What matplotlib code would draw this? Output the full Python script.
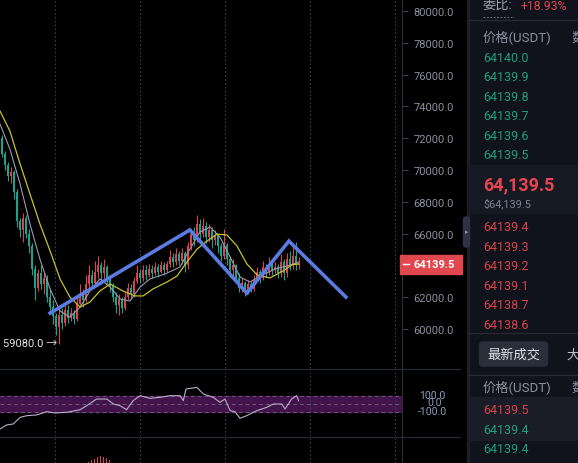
import matplotlib
matplotlib.use("Agg")
from matplotlib import pyplot as plt
from matplotlib.patches import Rectangle, FancyBboxPatch
import numpy as np

plt.rcParams['font.family'] = ['Roboto', 'Noto Sans CJK SC', 'DejaVu Sans']

# ---- candle data (prices in thousand USDT), open = previous close ----
first_open = 72.0
closes = [71.0, 70.3, 69.6, 69.9, 68.6, 66.8, 66.2, 67.0, 66.0, 65.2,
          63.8, 62.6, 63.5, 62.8, 63.2, 62.0, 61.4, 60.8, 60.1, 60.9,
          60.4, 61.2, 60.7, 61.0, 60.6, 61.6, 62.2, 61.8, 62.8, 63.4,
          62.9, 63.6, 64.0, 63.5, 63.9, 63.2, 62.7, 62.0, 61.5, 61.9,
          61.3, 62.0, 62.6, 62.2, 63.0, 63.5, 63.2, 63.7, 63.4, 63.8,
          63.5, 63.9, 63.6, 64.0, 63.7, 64.1, 64.5, 64.2, 64.7, 64.3,
          64.8, 64.0, 65.2, 66.0, 65.6, 66.6, 66.0, 66.5, 65.8, 66.2,
          65.6, 65.9, 65.2, 64.6, 65.3, 64.4, 63.7, 64.0, 63.2, 62.6,
          62.9, 62.4, 62.8, 62.5, 63.1, 63.6, 63.2, 63.9, 63.6, 64.0,
          63.7, 63.9, 63.5, 64.2, 63.5, 64.4, 64.0, 64.6, 64.0, 64.1395]
highs = [72.2, 71.2, 70.5, 70.2, 70.0, 68.8, 67.0, 67.3, 67.2, 66.3,
         65.4, 64.0, 63.8, 64.0, 63.6, 63.4, 62.5, 61.8, 61.0, 61.2,
         61.3, 61.6, 61.5, 61.3, 61.2, 62.0, 62.8, 62.5, 63.4, 64.0,
         63.7, 64.3, 64.6, 64.2, 64.4, 64.0, 63.4, 62.9, 62.3, 62.2,
         62.0, 62.3, 62.9, 62.8, 63.3, 64.0, 63.8, 64.0, 64.0, 64.1,
         64.0, 64.2, 64.1, 64.3, 64.2, 64.3, 65.0, 64.8, 65.1, 64.9,
         65.1, 64.9, 65.5, 66.3, 66.4, 67.2, 66.9, 67.0, 66.7, 66.6,
         66.4, 66.2, 66.0, 65.4, 66.3, 65.4, 64.6, 64.4, 64.1, 63.5,
         63.2, 63.0, 63.1, 63.0, 63.4, 63.9, 63.8, 64.3, 64.1, 64.5,
         64.2, 64.2, 64.1, 64.7, 64.4, 64.8, 64.9, 65.3, 65.5, 64.5]
lows = [70.8, 70.0, 69.3, 69.2, 68.2, 66.4, 65.8, 65.5, 65.7, 64.8,
        63.4, 61.8, 62.4, 62.5, 62.2, 61.7, 61.0, 60.3, 59.6, 59.08,
        60.0, 60.2, 60.4, 60.5, 60.3, 60.5, 61.5, 61.4, 61.7, 62.6,
        62.6, 62.8, 63.2, 63.1, 63.2, 62.8, 62.3, 61.7, 61.0, 60.9,
        61.0, 61.2, 61.8, 61.9, 62.0, 62.9, 62.9, 63.0, 63.1, 63.3,
        63.2, 63.4, 63.3, 63.5, 63.4, 63.6, 63.9, 63.9, 64.0, 64.0,
        64.1, 63.6, 63.8, 65.0, 65.2, 65.5, 65.6, 65.8, 65.4, 65.5,
        65.1, 65.3, 64.8, 64.3, 64.4, 64.0, 63.3, 63.2, 62.9, 62.3,
        62.3, 62.1, 62.2, 62.3, 62.4, 63.0, 62.9, 63.1, 63.3, 63.4,
        63.4, 63.5, 63.2, 63.3, 63.1, 63.3, 63.7, 63.8, 63.7, 63.8]

# moving average lines (candle index, price)
ma_slow_idx = [-0.5, 2.8, 6.2, 9.5, 12.8, 16.2, 19.5, 22.8, 26.2, 29.5, 32.8, 36.2, 40.5, 44.5,
               47.2, 50.5, 55.2, 58.5, 61.8, 65.2, 68.5, 71.8, 75.2, 78.5, 81.8, 85.2, 89.5,
               93.8, 97.0, 99.0]
ma_slow_val = [73.71, 72.45, 70.38, 68.49, 66.61, 64.91, 63.15, 62.01, 61.38, 61.70, 62.39,
               62.83, 62.39, 62.08, 62.08, 62.52, 62.96, 63.33, 64.21, 65.03, 65.53, 65.97,
               65.91, 65.22, 64.09, 63.40, 63.21, 63.65, 64.05, 64.09]
ma_fast_idx = [-0.5, 2.8, 6.2, 9.5, 12.8, 16.2, 19.5, 22.8, 26.2, 29.5, 32.8, 36.2, 39.5, 42.8,
               46.2, 49.5, 54.5, 59.5, 62.8, 66.2, 69.5, 72.8, 76.2, 79.5, 82.8, 86.2, 91.2,
               96.2, 99.0]
ma_fast_val = [72.89, 71.32, 69.12, 66.60, 64.40, 62.52, 61.13, 60.75, 61.38, 62.39, 63.15,
               62.64, 61.89, 61.76, 62.64, 63.15, 63.46, 63.90, 65.03, 66.10, 66.42, 65.79,
               64.53, 63.27, 62.96, 63.33, 63.77, 64.02, 64.21]

# hand drawn zigzag
zig_idx = [16.2, 62.8, 81.8, 95.8, 114.8]
zig_val = [61.0, 66.23, 62.26, 65.53, 62.01]

# CCI pane
cci_idx = [-0.5, 1.7, 3.9, 6.2, 8.4, 11.7, 15.1, 17.8, 21.7, 26.2, 28.4, 31.7, 35.1, 37.3,
           39.5, 41.7, 43.9, 46.2, 49.5, 52.8, 56.2, 59.5, 60.6, 61.5, 65.1, 67.3, 70.6,
           72.8, 74.5, 76.2, 77.8, 79.5, 81.7, 85.1, 88.4, 90.6, 93.4, 94.5, 96.7, 98.4, 99.0]
cci_val = [-312, -262, -250, -167, -146, -137, -96, -112, -104, -71, -21, 62, 62, 0, -21, -71,
           42, 104, 71, 83, 104, 104, 42, 187, 208, 125, 83, 21, 62, -83, -96, -179, -146,
           -83, -42, 0, 0, -62, 62, 104, 42]

# MACD histogram (only the visible tops)
macd_idx = [29, 30, 31, 32, 33, 34, 35, 36]
macd_val = [1.5, 3.0, 4.5, 6.0, 7.0, 6.5, 5.0, 3.0]

# 64000 sits under the last price tag
price_ticks = [60, 62, 66, 68, 70, 72, 74, 76, 78, 80]
time_grid = [17.8, 46.2, 74.5, 102.8, 131.2]

asks = ['64140.0', '64139.9', '64139.8', '64139.7', '64139.6', '64139.5']
bids = ['64139.4', '64139.3', '64139.2', '64139.1', '64138.7', '64138.6']
trades = ['64139.5', '64139.4', '64139.4']
trade_up = [True, False, False]

UP = '#d9434b'
DOWN = '#1aa38d'
GRAY = '#8b8fa0'
W, H = 578, 464

fig = plt.figure(figsize=(W / 100, H / 100), dpi=100, facecolor='black')

def px_axes(zorder):
    a = fig.add_axes([0, 0, 1, 1], zorder=zorder)
    a.set_xlim(0, W)
    a.set_ylim(H, 0)
    a.axis('off')
    a.patch.set_alpha(0)
    return a

bg = px_axes(0)
bg.add_patch(Rectangle((468, 0), W - 468, H, color='#10131b'))
bg.add_patch(Rectangle((467, 0), 1.5, H, color='#1c1f28'))
bg.add_patch(Rectangle((468, 166), W - 468, 48, color='#151923'))
bg.add_patch(Rectangle((468, 398), W - 468, 43, color='#1a1d27'))

# ---- main candle pane ----
def pane(bottom_px, top_px, zorder=1):
    a = fig.add_axes([0, (H - bottom_px) / H, 402 / W, (bottom_px - top_px) / H], zorder=zorder)
    a.set_facecolor('none')
    a.set_xlim(-0.5, 133.5)
    for s in ['top', 'left', 'bottom']:
        a.spines[s].set_visible(False)
    a.spines['right'].set_color('#2a2e39')
    a.set_xticks(time_grid)
    a.xaxis.set_tick_params(length=0, labelbottom=False)
    a.grid(axis='x', color='#3b3f4b', linestyle=(0, (1.5, 2)), linewidth=0.8)
    return a

ax = pane(369, 0)
ax.set_ylim(80.755 - 369 / 15.9, 80.755)
opens = [first_open] + closes[:-1]
n = len(closes)
idx = np.arange(n)
cols = [UP if c >= o else DOWN for o, c in zip(opens, closes)]
ax.vlines(idx, lows, highs, colors=cols, linewidth=0.8, zorder=2)
body_lo = np.minimum(opens, closes)
body_h = np.maximum(np.abs(np.array(closes) - np.array(opens)), 0.06)
ax.bar(idx, body_h, bottom=body_lo, width=0.66, color=cols, linewidth=0, zorder=2)
ax.plot(ma_fast_idx, ma_fast_val, color='#9d98b0', linewidth=0.8, zorder=3)
ax.plot(ma_slow_idx, ma_slow_val, color='#c9c12a', linewidth=0.9, zorder=3)
ax.plot(zig_idx, zig_val, color='#5b7be3', linewidth=2.6, solid_joinstyle='miter', zorder=4)
ax.yaxis.tick_right()
ax.set_yticks(price_ticks)
ax.set_yticklabels(['%.1f' % (v * 1000) for v in price_ticks])
ax.tick_params(axis='y', length=4, width=0.8, color='#3a3e4a', labelcolor=GRAY,
               labelsize=8, pad=4)

# ---- CCI pane ----
cx = pane(437, 369)
cx.set_ylim(-400, 450)
cx.axhspan(-100, 100, color='#42144b', zorder=1)
for lv in [100, 0, -100]:
    cx.axhline(lv, color='#6b5a78', linestyle=(0, (4, 3)), linewidth=0.7, zorder=2)
cx.plot(cci_idx, cci_val, color='#b8b0c8', linewidth=0.8, zorder=3)
cx.set_yticks([])

# ---- MACD pane ----
mx = pane(H, 437)
mx.set_ylim(0, 27)
mx.bar(macd_idx, macd_val, width=0.35, color=UP, linewidth=0)
mx.set_yticks([])

# ---- overlay text ----
ov = px_axes(10)
for y in [369.5, 437.5]:
    ov.plot([0, 460], [y, y], color='#262a35', linewidth=0.9)
ov.text(432, 396.5, '100.0', color='#8e9bbd', fontsize=7.5, ha='center', va='center')
ov.text(435, 403.5, '0.0', color='#8e9bbd', fontsize=7.5, ha='center', va='center')
ov.text(432, 412.5, '-100.0', color='#8e9bbd', fontsize=7.5, ha='center', va='center')
ov.text(3, 344, '59080.0 \u2192', color='#e4e4e8', fontsize=8, ha='left', va='center')

ov.add_patch(Rectangle((400, 255.5), 62, 19.5, color='#e0474f'))
ov.plot([403, 408.5], [265, 265], color='white', linewidth=1)
ov.text(413, 265.5, '64139.5', color='white', fontsize=8, fontweight='bold',
        ha='left', va='center')

ov.add_patch(FancyBboxPatch((463.5, 218), 6, 30, boxstyle='round,pad=0,rounding_size=2',
                            color='#2e3344'))
ov.text(466.5, 233, '\u25b8', color='#8b8fa0', fontsize=5, ha='center', va='center')

# ---- order book panel ----
ov.text(483, 6, '委比:', color='#9a9eae', fontsize=9.5, ha='left', va='center')
ov.text(521, 6, '+18.93%', color='#e0474f', fontsize=8.8, ha='left', va='center')
ov.plot([483, 514], [18, 18], color='#6a6e7c', linewidth=0.7, linestyle=(0, (2, 1.5)))
ov.plot([468, W], [20.5, 20.5], color='#262a35', linewidth=0.9)
ov.text(483, 38, '价格(USDT)', color=GRAY, fontsize=9.5, ha='left', va='center')
ov.text(571, 38, '数', color=GRAY, fontsize=9.5, ha='left', va='center')
for k, a in enumerate(asks):
    ov.text(483, 58 + k * 19.6, a, color='#1f9f7c', fontsize=9, ha='left', va='center')
ov.text(483, 185, '64,139.5', color='#e8444f', fontsize=13, fontweight='bold',
        ha='left', va='center')
ov.text(483, 204, '$64,139.5', color='#7d8192', fontsize=7.8, ha='left', va='center')
for k, b in enumerate(bids):
    ov.text(483, 228 + k * 19.5, b, color='#d8434b', fontsize=9, ha='left', va='center')
ov.plot([468, W], [333.5, 333.5], color='#262a35', linewidth=0.9)
ov.add_patch(FancyBboxPatch((479.5, 343), 68, 24, boxstyle='round,pad=0,rounding_size=3',
                            color='#2a2e3a'))
ov.text(513.5, 355, '最新成交', color='#dfe2ea', fontsize=9.5, ha='center', va='center')
ov.text(566, 355, '大', color='#b8bcc8', fontsize=9.5, ha='left', va='center')
ov.plot([468, W], [376, 376], color='#262a35', linewidth=0.9)
ov.text(483, 388, '价格(USDT)', color=GRAY, fontsize=9.5, ha='left', va='center')
ov.text(571, 388, '数', color=GRAY, fontsize=9.5, ha='left', va='center')
for k, (t, up) in enumerate(zip(trades, trade_up)):
    ov.text(483, 411 + k * 19.5, t, color='#d8434b' if up else '#1f9f7c', fontsize=9,
            ha='left', va='center')

fig.savefig('out.png', dpi=100, facecolor='black')
